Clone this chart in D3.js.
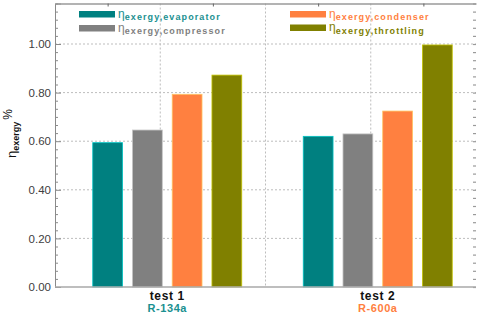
<!DOCTYPE html>
<html>
<head>
<meta charset="utf-8">
<script src="https://cdn.jsdelivr.net/npm/d3@7"></script>
<style>
  body { margin: 0; background: #fff; }
  svg { font-family: Arial, "Liberation Sans", sans-serif; }
</style>
</head>
<body>
<svg id="chart" width="480" height="317"></svg>
<script>
// DATA
const tests = ['test 1', 'test 2'];
const refrigerants = ['R-134a', 'R-600a'];
const seriesKeys = ['evaporator', 'compressor', 'condenser', 'throttling'];
const evaporator = [0.594, 0.620];
const compressor = [0.646, 0.630];
const condenser = [0.793, 0.724];
const throttling = [0.872, 0.996];
const yTicks = [0.0, 0.2, 0.4, 0.6, 0.8, 1.0];

const values = { evaporator, compressor, condenser, throttling };
const colors = { evaporator: '#008080', compressor: '#808080', condenser: '#ff8040', throttling: '#808000' };
const refColors = ['#1a9090', '#ff8040'];

const svg = d3.select('#chart');
const m = { top: 3.5, right: 4, bottom: 30, left: 55 };
const W = 480, H = 317;
const x0px = m.left, x1px = W - m.right, yBot = H - m.bottom, yTop = m.top;

// SCALES
const y = d3.scaleLinear().domain([0, 7 / 6]).range([yBot, yTop]);
const xGrid = d3.scaleLinear().domain([0, 4]).range([x0px, x1px]);
const xGroup = d3.scaleBand().domain(tests).range([x0px + 7, x1px + 7]);
const xBar = d3.scaleBand().domain(seriesKeys).range([-74.5, 74.5]).paddingInner(0.25);

// GRID
const grid = svg.append('g').attr('stroke', '#bdbdbd').attr('stroke-dasharray', '2,2');
grid.selectAll('.hg').data(yTicks.slice(1)).enter().append('line')
  .attr('x1', x0px).attr('x2', x1px)
  .attr('y1', d => y(d)).attr('y2', d => y(d));
grid.selectAll('.vg').data([1, 2, 3]).enter().append('line')
  .attr('x1', d => xGrid(d)).attr('x2', d => xGrid(d))
  .attr('y1', yTop).attr('y2', yBot);

// BARS
const groups = svg.selectAll('.grp').data(tests).enter().append('g')
  .attr('transform', d => `translate(${xGroup(d) + xGroup.bandwidth() / 2},0)`);
groups.selectAll('rect')
  .data((t, i) => seriesKeys.map(k => ({ k, v: values[k][i] })))
  .enter().append('rect')
  .attr('x', d => xBar(d.k))
  .attr('y', d => y(d.v))
  .attr('width', xBar.bandwidth())
  .attr('height', d => yBot - y(d.v))
  .attr('fill', d => colors[d.k])
  .attr('stroke', d => d3.color(colors[d.k]).brighter(1.2))
  .attr('stroke-width', 0.8);

// AXES
const axisCol = '#8a8a8a';
const leftAx = svg.append('g').attr('transform', `translate(${x0px},0)`)
  .call(d3.axisLeft(y).tickValues(yTicks).tickSize(-6).tickPadding(4).tickFormat(d3.format('.2f')));
leftAx.selectAll('text').attr('font-size', 11.5).attr('fill', '#404040');
leftAx.select('.domain').attr('stroke', axisCol);
leftAx.selectAll('.tick line').attr('stroke', axisCol);

const minorVals = d3.range(0, 36).map(i => i / 30).filter(v => Math.abs(v * 5 - Math.round(v * 5)) > 1e-6);
const leftMinor = svg.append('g').attr('transform', `translate(${x0px},0)`)
  .call(d3.axisLeft(y).tickValues(minorVals).tickSize(-3).tickFormat(''));
leftMinor.select('.domain').remove();
leftMinor.selectAll('.tick line').attr('stroke', axisCol);

const rightAx = svg.append('g').attr('transform', `translate(${x1px},0)`)
  .call(d3.axisRight(y).tickValues(d3.range(0, 36).map(i => i / 30)).tickSize(-3).tickFormat(''));
rightAx.select('.domain').remove();
rightAx.selectAll('.tick line').attr('stroke', '#9a9a9a').attr('stroke-width', 1.2);

const topAx = svg.append('g').attr('transform', `translate(0,${yTop})`)
  .call(d3.axisTop(xGrid).tickValues([0.5, 1.5, 2.5, 3.5]).tickSize(-3).tickFormat('').tickSizeOuter(0));
topAx.select('.domain').attr('stroke', '#9a9a9a').attr('stroke-width', 1.5);
topAx.selectAll('.tick line').attr('stroke', '#666');

svg.append('line').attr('x1', x0px).attr('x2', x1px).attr('y1', yBot).attr('y2', yBot)
  .attr('stroke', '#a8a8a8').attr('stroke-width', 1.5);

// X LABELS
tests.forEach((t, i) => {
  const cx = xGroup(t) + xGroup.bandwidth() / 2;
  svg.append('text').attr('x', cx).attr('y', 300).attr('text-anchor', 'middle')
    .attr('font-size', 12).attr('font-weight', 'bold').attr('fill', '#111').attr('letter-spacing', 0.6).text(t);
  svg.append('text').attr('x', cx).attr('y', 312).attr('text-anchor', 'middle')
    .attr('font-size', 11).attr('font-weight', 'bold').attr('fill', refColors[i]).attr('letter-spacing', 0.6)
    .text(refrigerants[i]);
});

// Y LABEL
const yl = svg.append('text').attr('transform', 'translate(16,158) rotate(-90)').attr('fill', '#111');
yl.append('tspan').attr('font-size', 13).text('η');
yl.append('tspan').attr('font-size', 9).attr('font-weight', 'bold').attr('dy', 3).text('exergy');
yl.append('tspan').attr('font-size', 12).attr('dy', -7).attr('dx', 2).text('%');

// LEGEND
const legPos = [[79, 11], [79, 25], [290, 11], [290, 24.5]];
const legOrder = ['evaporator', 'compressor', 'condenser', 'throttling'];
legOrder.forEach((k, i) => {
  const [lx, ly] = legPos[i];
  svg.append('rect').attr('x', lx).attr('y', ly).attr('width', 36).attr('height', 6.5).attr('fill', colors[k]);
  const tx = svg.append('text').attr('x', lx + 39).attr('y', ly + 6.5).attr('fill', colors[k] === '#008080' ? '#1a9090' : colors[k]);
  tx.append('tspan').attr('font-size', 12).text('η');
  tx.append('tspan').attr('font-size', 9).attr('font-weight', 'bold').attr('letter-spacing', 1.1)
    .attr('dy', 2.5).text('exergy,' + k);
});
</script>
</body>
</html>
